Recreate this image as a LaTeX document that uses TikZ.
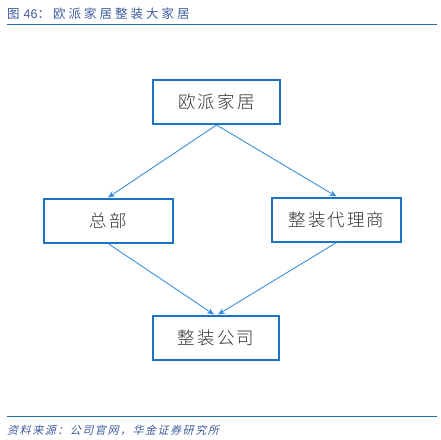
\documentclass[tikz,border=0pt]{standalone}
\usepackage{fontspec}
\setmainfont{Liberation Sans}
\newfontfamily\cjk{Noto Sans CJK SC Light}[LetterSpace=12]
\newfontfamily\cjktitle{Noto Sans CJK SC}[LetterSpace=24]
\newfontfamily\cjkfoot{Noto Sans CJK SC}[FakeSlant=0.25,LetterSpace=14]
\usetikzlibrary{arrows.meta}
\definecolor{boxblue}{HTML}{1A73C4}
\definecolor{arrblue}{HTML}{3A8EDB}
\definecolor{titleblue}{HTML}{3C5A9E}
\definecolor{ruleblue}{HTML}{1F6FB5}
\definecolor{txtgray}{HTML}{333333}
\begin{document}
\begin{tikzpicture}[x=1pt,y=-1pt,
  orgbox/.style={draw=boxblue,line width=2pt,fill=white,inner sep=0pt,
    text=txtgray,font=\cjk\fontsize{17.5}{20}\selectfont},
  conn/.style={draw=arrblue,line width=0.9pt,-{Stealth[length=7pt,width=6pt]}}]
\useasboundingbox (0,0) rectangle (441,439);
\node[anchor=west,text=titleblue,font=\fontsize{12.5}{14}\selectfont,inner sep=0pt] (title) at (7,14)
  {{\cjktitle 图}\hspace{4pt}46{\cjktitle ：欧派家居整装大家居}};
\draw[ruleblue,line width=1pt] (7,24) -- (437,24);
\node[orgbox,minimum width=127pt,minimum height=44pt] (top) at (216.5,102) {欧派家居};
\node[orgbox,minimum width=129pt,minimum height=44pt] (hq) at (108,220.5) {总部};
\node[orgbox,minimum width=129pt,minimum height=44pt] (agent) at (336.5,219.5) {整装代理商};
\node[orgbox,minimum width=126pt,minimum height=44pt] (co) at (216,337.5) {整装公司};
\draw[conn] (top.south) -- (hq.north);
\draw[conn] (top.south) -- (agent.north);
\draw[conn] (hq.south) -- ([xshift=-2pt]co.north);
\draw[conn] (agent.south) -- ([xshift=2pt]co.north);
\draw[ruleblue,line width=1pt] (7,416) -- (437,416);
\node[anchor=west,text=titleblue,font=\cjkfoot\fontsize{11}{13}\selectfont,inner sep=0pt] (foot) at (7,430)
  {资料来源：公司官网，华金证券研究所};
\end{tikzpicture}
\end{document}
